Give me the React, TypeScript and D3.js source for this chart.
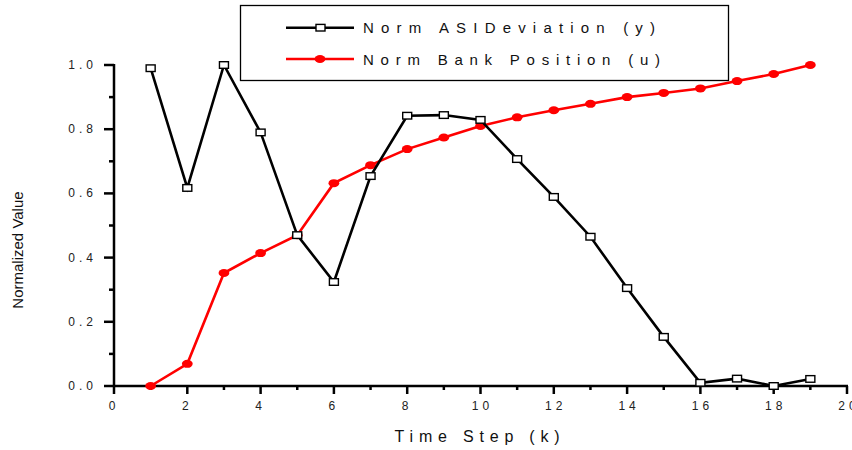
import React, { useEffect, useRef } from 'react';
import * as d3 from 'd3';

// time steps and the two normalized series
const steps = [1, 2, 3, 4, 5, 6, 7, 8, 9, 10, 11, 12, 13, 14, 15, 16, 17, 18, 19];
const asiDeviation = [0.99, 0.617, 1.0, 0.79, 0.47, 0.324, 0.654, 0.842, 0.844, 0.829, 0.707, 0.589, 0.465, 0.305, 0.153, 0.01, 0.023, 0.0, 0.022];
const bankPosition = [0.0, 0.069, 0.352, 0.414, 0.47, 0.632, 0.688, 0.738, 0.774, 0.81, 0.837, 0.859, 0.879, 0.9, 0.913, 0.927, 0.95, 0.972, 1.0];
const xMajorTicks = [0, 2, 4, 6, 8, 10, 12, 14, 16, 18, 20];
const yMajorTicks = [0, 0.2, 0.4, 0.6, 0.8, 1.0];
const legendLabels = ['Norm ASIDeviation (y)', 'Norm Bank Position (u)'];

const font = '"Liberation Sans", Arial, sans-serif';

export default function App() {
  const ref = useRef<SVGSVGElement>(null);

  useEffect(() => {
    const svg = d3.select(ref.current);
    svg.selectAll('*').remove();

    const x = d3.scaleLinear().domain([0, 20]).range([114, 847]);
    const y = d3.scaleLinear().domain([0, 1]).range([386, 65]);

    const xMinor = d3.range(1, 20, 2);
    const yMinor = d3.range(0.1, 1, 0.2);
    const axisW = 2.5;

    // y axis
    const yAxis = svg.append('g').attr('transform', 'translate(' + x(0) + ',0)');
    yAxis.append('line')
      .attr('y1', y(0) + 1).attr('y2', y(1) - 1)
      .attr('stroke', '#000').attr('stroke-width', axisW);
    yAxis.selectAll('.ymaj').data(yMajorTicks).enter().append('line')
      .attr('x1', -10).attr('x2', 0)
      .attr('y1', (d) => y(d)).attr('y2', (d) => y(d))
      .attr('stroke', '#000').attr('stroke-width', axisW);
    yAxis.selectAll('.ymin').data(yMinor).enter().append('line')
      .attr('x1', -5).attr('x2', 0)
      .attr('y1', (d) => y(d)).attr('y2', (d) => y(d))
      .attr('stroke', '#000').attr('stroke-width', axisW);
    yAxis.selectAll('.ylab').data(yMajorTicks).enter().append('text')
      .attr('x', -17).attr('y', (d) => y(d) + 4)
      .attr('text-anchor', 'end')
      .style('font-family', font).style('font-size', '12px').style('letter-spacing', '4px')
      .attr('fill', '#222')
      .text((d) => d3.format('.1f')(d));

    // x axis
    const xAxis = svg.append('g').attr('transform', 'translate(0,' + y(0) + ')');
    xAxis.append('line')
      .attr('x1', x(0) - 1).attr('x2', x(20) + 1)
      .attr('stroke', '#000').attr('stroke-width', axisW);
    xAxis.selectAll('.xmaj').data(xMajorTicks).enter().append('line')
      .attr('x1', (d) => x(d)).attr('x2', (d) => x(d))
      .attr('y1', 0).attr('y2', 8)
      .attr('stroke', '#000').attr('stroke-width', axisW);
    xAxis.selectAll('.xmin').data(xMinor).enter().append('line')
      .attr('x1', (d) => x(d)).attr('x2', (d) => x(d))
      .attr('y1', 0).attr('y2', 4)
      .attr('stroke', '#000').attr('stroke-width', axisW);
    xAxis.selectAll('.xlab').data(xMajorTicks).enter().append('text')
      .attr('x', (d) => x(d) + (d >= 10 ? 2 : 0)).attr('y', 24)
      .attr('text-anchor', 'middle')
      .style('font-family', font).style('font-size', '12px').style('letter-spacing', '4px')
      .attr('fill', '#222')
      .text((d) => String(d));

    // axis titles
    svg.append('text')
      .attr('x', 480).attr('y', 442)
      .attr('text-anchor', 'middle')
      .style('font-family', font).style('font-size', '16px').style('letter-spacing', '5.8px')
      .attr('fill', '#111')
      .text('Time Step (k)');
    svg.append('text')
      .attr('transform', 'translate(23,250) rotate(-90)')
      .attr('text-anchor', 'middle')
      .style('font-family', font).style('font-size', '15px')
      .attr('fill', '#111')
      .text('Normalized Value');

    const line = d3.line<number>()
      .x((d, i) => x(steps[i]))
      .y((d) => y(d));

    // bank position (red)
    svg.append('path').datum(bankPosition)
      .attr('d', line).attr('fill', 'none')
      .attr('stroke', '#ff0000').attr('stroke-width', 2.6);
    svg.selectAll('.dot').data(bankPosition).enter().append('ellipse')
      .attr('cx', (d, i) => x(steps[i])).attr('cy', (d) => y(d))
      .attr('rx', 5.4).attr('ry', 4)
      .attr('fill', '#ff0000');

    // asi deviation (black)
    svg.append('path').datum(asiDeviation)
      .attr('d', line).attr('fill', 'none')
      .attr('stroke', '#000').attr('stroke-width', 2.6);
    svg.selectAll('.sq').data(asiDeviation).enter().append('rect')
      .attr('x', (d, i) => x(steps[i]) - 4.5).attr('y', (d) => y(d) - 3.3)
      .attr('width', 9).attr('height', 6.6)
      .attr('fill', '#fff').attr('stroke', '#000').attr('stroke-width', 1.4);

    // legend
    const lg = svg.append('g');
    lg.append('rect')
      .attr('x', 240.5).attr('y', 5.5).attr('width', 488).attr('height', 75)
      .attr('fill', '#fff').attr('stroke', '#000').attr('stroke-width', 1.3);
    const rows = [27.7, 59];
    const widths = [292, 297];
    lg.append('line').attr('x1', 286).attr('x2', 354).attr('y1', rows[0]).attr('y2', rows[0])
      .attr('stroke', '#000').attr('stroke-width', 2.6);
    lg.append('rect').attr('x', 316).attr('y', rows[0] - 3.3).attr('width', 9).attr('height', 6.6)
      .attr('fill', '#fff').attr('stroke', '#000').attr('stroke-width', 1.4);
    lg.append('line').attr('x1', 286).attr('x2', 354).attr('y1', rows[1]).attr('y2', rows[1])
      .attr('stroke', '#ff0000').attr('stroke-width', 2.6);
    lg.append('ellipse').attr('cx', 320).attr('cy', rows[1]).attr('rx', 5.4).attr('ry', 4)
      .attr('fill', '#ff0000');
    lg.selectAll('.lt').data(legendLabels).enter().append('text')
      .attr('x', 363).attr('y', (d, i) => rows[i] + 5.5)
      .attr('textLength', (d, i) => widths[i]).attr('lengthAdjust', 'spacing')
      .style('font-family', font).style('font-size', '15px')
      .attr('fill', '#111')
      .text((d) => d);
  }, []);

  return (
    <svg ref={ref} width={852} height={450}
      style={{ position: 'absolute', left: 0, top: 0, background: '#fff' }} />
  );
}
